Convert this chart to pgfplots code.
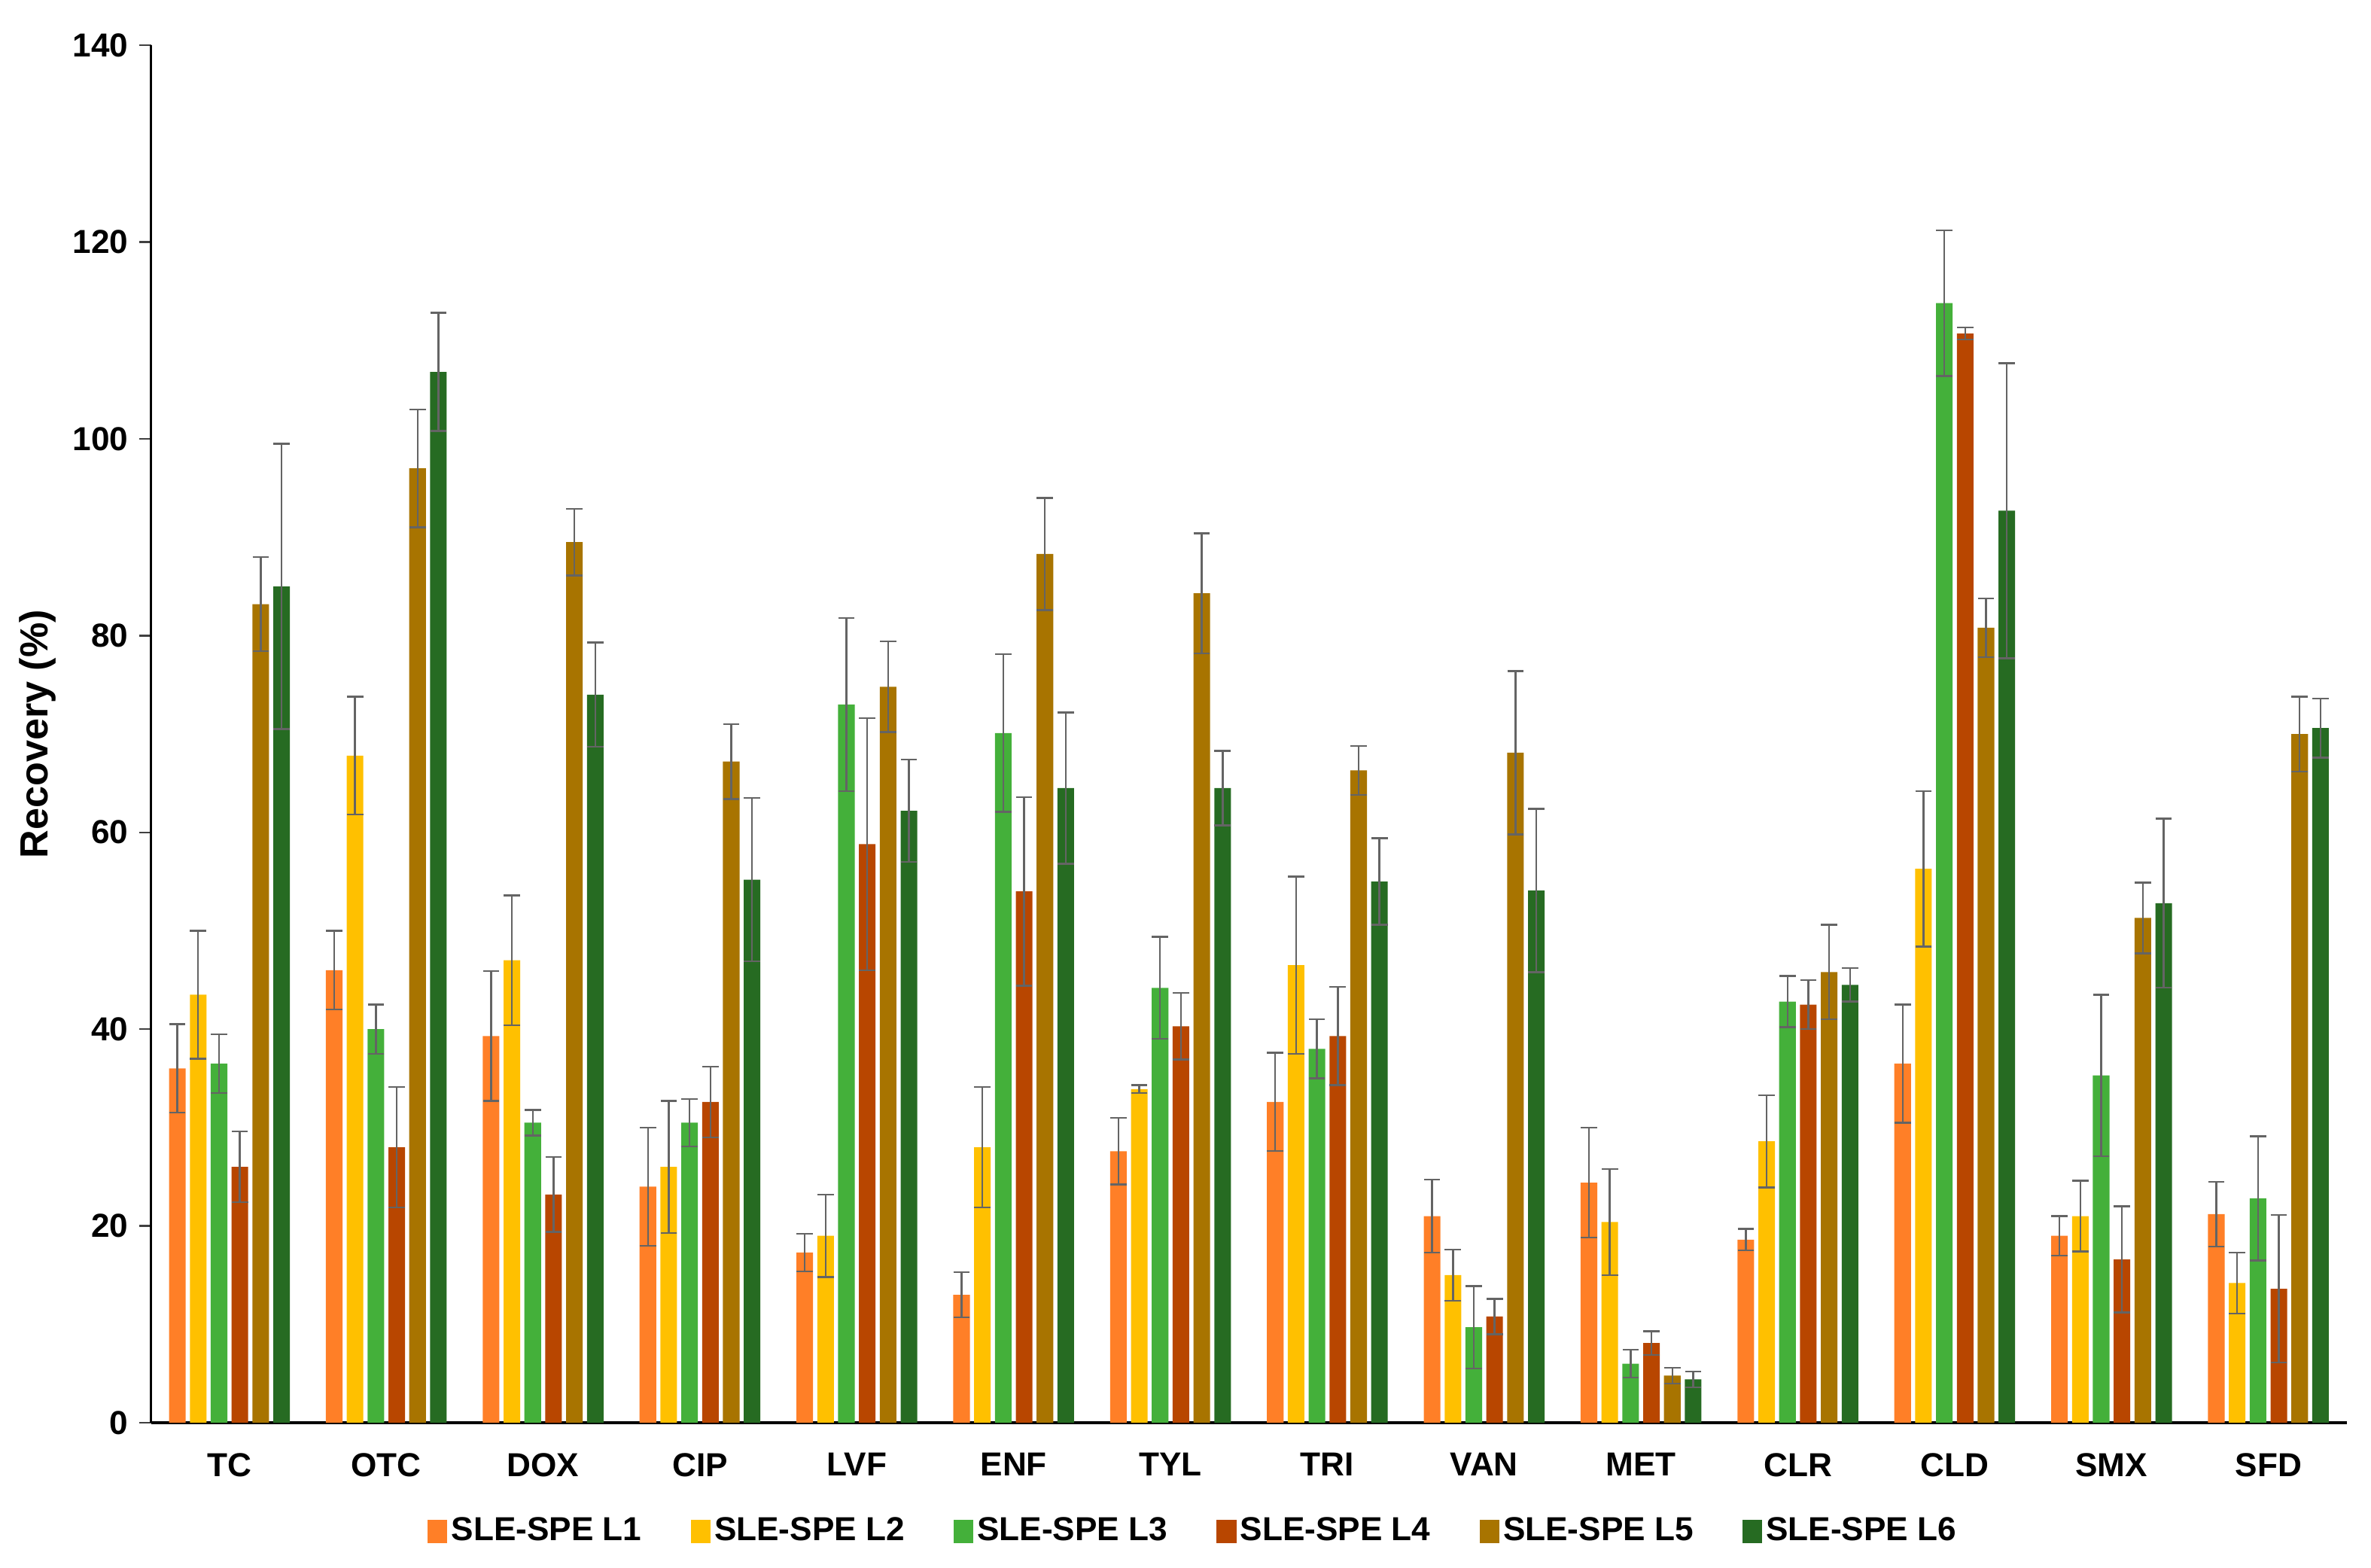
\documentclass[border=0pt]{standalone}
\usepackage{fontspec}
\setmainfont{Liberation Sans}
\usepackage{pgfplots}
\usepackage{pgfplotstable}
\pgfplotsset{compat=1.18}

\definecolor{cLone}{HTML}{FF7F27}
\definecolor{cLtwo}{HTML}{FFC000}
\definecolor{cLthree}{HTML}{44B03A}
\definecolor{cLfour}{HTML}{B84600}
\definecolor{cLfive}{HTML}{A87400}
\definecolor{cLsix}{HTML}{266B22}
\definecolor{errgray}{HTML}{646464}

% x = compound index (TC ... SFD), y = recovery, e = std. dev.
\pgfplotstableread{
x y e
0 36.0 4.5
1 46.0 4.0
2 39.3 6.6
3 24.0 6.0
4 17.3 1.9
5 13.0 2.3
6 27.6 3.4
7 32.6 5.0
8 21.0 3.7
9 24.4 5.6
10 18.6 1.1
11 36.5 6.0
12 19.0 2.0
13 21.2 3.3
}\Lone
\pgfplotstableread{
x y e
0 43.5 6.5
1 67.8 6.0
2 47.0 6.6
3 26.0 6.7
4 19.0 4.2
5 28.0 6.1
6 33.9 0.4
7 46.5 9.0
8 15.0 2.6
9 20.4 5.4
10 28.6 4.7
11 56.3 7.9
12 21.0 3.6
13 14.2 3.1
}\Ltwo
\pgfplotstableread{
x y e
0 36.5 3.0
1 40.0 2.5
2 30.5 1.3
3 30.5 2.4
4 73.0 8.8
5 70.1 8.0
6 44.2 5.2
7 38.0 3.0
8 9.7 4.2
9 6.0 1.4
10 42.8 2.6
11 113.8 7.4
12 35.3 8.2
13 22.8 6.3
}\Lthree
\pgfplotstableread{
x y e
0 26.0 3.6
1 28.0 6.1
2 23.2 3.8
3 32.6 3.6
4 58.8 12.8
5 54.0 9.6
6 40.3 3.4
7 39.3 5.0
8 10.8 1.8
9 8.1 1.2
10 42.5 2.5
11 110.7 0.6
12 16.6 5.4
13 13.6 7.5
}\Lfour
\pgfplotstableread{
x y e
0 83.2 4.8
1 97.0 6.0
2 89.5 3.4
3 67.2 3.8
4 74.8 4.6
5 88.3 5.7
6 84.3 6.1
7 66.3 2.5
8 68.1 8.3
9 4.8 0.8
10 45.8 4.8
11 80.8 3.0
12 51.3 3.6
13 70.0 3.8
}\Lfive
\pgfplotstableread{
x y e
0 85.0 14.5
1 106.8 6.0
2 74.0 5.3
3 55.2 8.3
4 62.2 5.2
5 64.5 7.7
6 64.5 3.8
7 55.0 4.4
8 54.1 8.3
9 4.4 0.8
10 44.5 1.7
11 92.7 15.0
12 52.8 8.6
13 70.6 3.0
}\Lsix

\pgfplotsset{
  sqlegend/.style={legend image code/.code={\fill[##1] (0pt,-3.75pt) rectangle (6.5pt,3.75pt);}},
  sbar/.style={fill=#1, draw=none, sqlegend,
    error bars/.cd, y dir=both, y explicit,
    error bar style={line width=0.6pt, draw=errgray},
    error mark options={rotate=90, mark size=2.7pt, line width=0.6pt, draw=errgray}},
}

\begin{document}
\begin{tikzpicture}
\begin{axis}[
    name=ax,
    width=727pt, height=456pt,
    scale only axis,
    ybar=1.4pt,
    bar width=5.5pt,
    xmin=-0.5, xmax=13.5,
    ymin=0, ymax=140,
    ytick={0,20,...,140},
    xtick={0,...,13},
    xticklabels={TC,OTC,DOX,CIP,LVF,ENF,TYL,TRI,VAN,MET,CLR,CLD,SMX,SFD},
    axis x line*=bottom,
    axis y line*=left,
    x axis line style={line width=1pt},
    y axis line style={line width=0.75pt},
    tick align=outside,
    major tick length=4pt,
    xtick style={draw=none},
    ytick style={draw=black!75, line width=0.6pt},
    /pgf/number format/assume math mode=true,
    ticklabel style={font=\fontsize{11}{13}\selectfont\bfseries},
    xticklabel style={yshift=-2.5pt},
    ylabel={Recovery (\%)},
    ylabel style={font=\fontsize{13}{15}\selectfont\bfseries,
      at={(axis description cs:-0.0516,0.5)}, anchor=center},
    legend columns=6,
    legend style={at={(0.475,-0.079)}, anchor=center, draw=none,
      font=\fontsize{11}{13}\selectfont\bfseries,
      nodes={inner sep=1.3pt},
      /tikz/every even column/.append style={column sep=15pt}},
    legend cell align=left,
]
\addplot[sbar=cLone]   table[x=x,y=y,y error=e] {\Lone};
\addplot[sbar=cLtwo]   table[x=x,y=y,y error=e] {\Ltwo};
\addplot[sbar=cLthree] table[x=x,y=y,y error=e] {\Lthree};
\addplot[sbar=cLfour]  table[x=x,y=y,y error=e] {\Lfour};
\addplot[sbar=cLfive]  table[x=x,y=y,y error=e] {\Lfive};
\addplot[sbar=cLsix]   table[x=x,y=y,y error=e] {\Lsix};
\legend{SLE-SPE L1,SLE-SPE L2,SLE-SPE L3,SLE-SPE L4,SLE-SPE L5,SLE-SPE L6}
\end{axis}
\pgfresetboundingbox
\path[use as bounding box] ([xshift=-50pt,yshift=-48pt]ax.south west) rectangle ([xshift=8pt,yshift=15pt]ax.north east);
\end{tikzpicture}
\end{document}
